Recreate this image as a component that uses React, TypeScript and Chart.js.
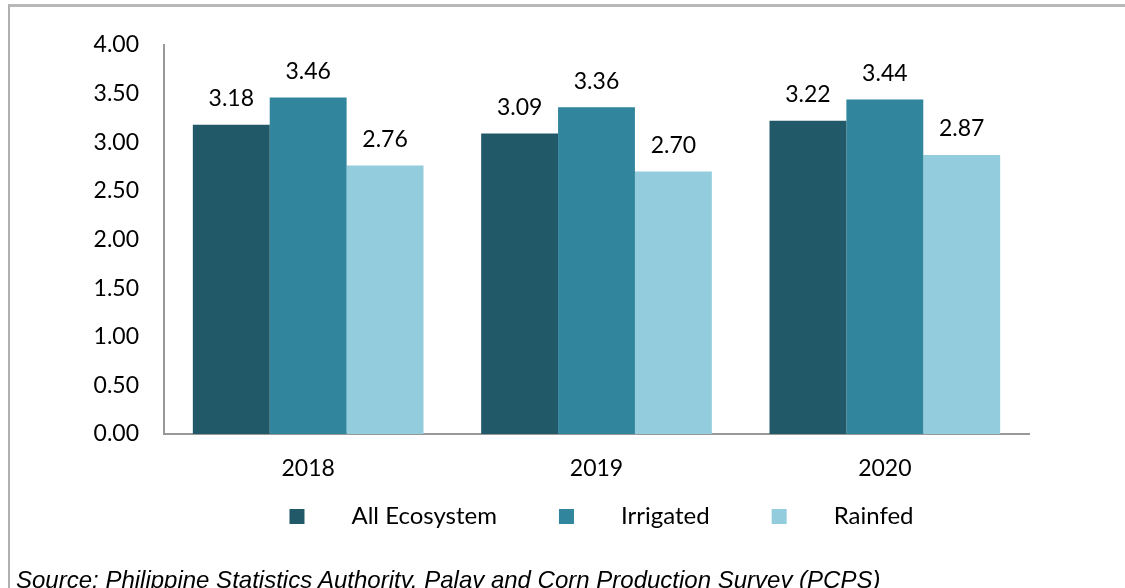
import React, { useEffect, useRef } from "react";
import { Chart, registerables } from "chart.js";

Chart.register(...registerables);

const categories = ["2018", "2019", "2020"];
const allEcosystem = [3.18, 3.09, 3.22];
const irrigated = [3.46, 3.36, 3.44];
const rainfed = [2.76, 2.7, 2.87];
const seriesNames = ["All Ecosystem", "Irrigated", "Rainfed"];
const seriesColors = ["#215968", "#31859c", "#93cddd"];
const yMin = 0;
const yMax = 4;
const yStep = 0.5;
const sourceText =
  "Source: Philippine Statistics Authority, Palay and Corn Production Survey (PCPS)";

const FONT = "Lato";
const CANVAS_W = 1115;
const CANVAS_H = 545;

const valueLabels = {
  id: "valueLabels",
  afterDatasetsDraw(chart: any) {
    const ctx = chart.ctx;
    ctx.save();
    ctx.font = `23px ${FONT}`;
    ctx.fillStyle = "#000";
    ctx.textAlign = "center";
    ctx.textBaseline = "middle";
    chart.data.datasets.forEach((ds: any, i: number) => {
      const meta = chart.getDatasetMeta(i);
      meta.data.forEach((bar: any, j: number) => {
        ctx.fillText(Number(ds.data[j]).toFixed(2), bar.x, bar.y - 26);
      });
    });
    ctx.restore();
  },
};

const customLegend = {
  id: "customLegend",
  afterDraw(chart: any) {
    const ctx = chart.ctx;
    const box = 15;
    const gapBoxText = 47;
    const gapItems = 62;
    ctx.save();
    ctx.font = `24px ${FONT}`;
    const items = chart.data.datasets.map((ds: any) => ({
      label: ds.label,
      color: ds.backgroundColor,
      w: ctx.measureText(ds.label).width,
    }));
    let total = 0;
    items.forEach((it: any, i: number) => {
      total += box + gapBoxText + it.w + (i < items.length - 1 ? gapItems : 0);
    });
    const area = chart.chartArea;
    const cx = (area.left + area.right) / 2 + 5;
    const cy = 510.5;
    let x = cx - total / 2;
    ctx.textBaseline = "middle";
    ctx.textAlign = "left";
    items.forEach((it: any) => {
      ctx.fillStyle = it.color;
      ctx.fillRect(x, cy - box / 2, box, box);
      x += box + gapBoxText;
      ctx.fillStyle = "#000";
      ctx.fillText(it.label, x, cy);
      x += it.w + gapItems;
    });
    ctx.restore();
  },
};

export default function App() {
  const ref = useRef<HTMLCanvasElement | null>(null);

  useEffect(() => {
    if (!ref.current) return;
    const data = [allEcosystem, irrigated, rainfed];
    const chart = new Chart(ref.current, {
      type: "bar",
      data: {
        labels: categories,
        datasets: seriesNames.map((name, i) => ({
          label: name,
          data: data[i],
          backgroundColor: seriesColors[i],
          borderWidth: 0,
          categoryPercentage: 0.8,
          barPercentage: 1.0,
        })),
      },
      options: {
        responsive: false,
        animation: false,
        devicePixelRatio: 1,
        layout: { padding: { left: 0, right: 96, top: 39, bottom: 0 } },
        plugins: {
          legend: { display: false },
          tooltip: { enabled: false },
        },
        scales: {
          x: {
            grid: { display: false, drawTicks: false },
            border: { display: true, color: "#999999", width: 2 },
            ticks: {
              font: { family: FONT, size: 23 },
              color: "#000",
              padding: 21,
            },
            afterFit(scale: any) {
              scale.height = 117;
            },
          },
          y: {
            min: yMin,
            max: yMax,
            grid: { display: false, drawTicks: false },
            border: { display: true, color: "#999999", width: 2 },
            ticks: {
              stepSize: yStep,
              font: { family: FONT, size: 23 },
              color: "#000",
              padding: 25,
              callback: (v: any) => Number(v).toFixed(2),
            },
            afterFit(scale: any) {
              scale.width = 154;
            },
          },
        },
      },
      plugins: [valueLabels, customLegend],
    });
    return () => chart.destroy();
  }, []);

  return (
    <div
      style={{
        position: "fixed",
        top: 4,
        left: 8,
        width: 1117,
        height: 584,
        overflow: "hidden",
      }}
    >
      <div
        style={{
          position: "absolute",
          top: 0,
          left: 0,
          width: 1200,
          height: 700,
          borderTop: "3px solid #b8b8b8",
          borderLeft: "2px solid #b0b0b0",
          boxSizing: "border-box",
        }}
      >
        <canvas
          ref={ref}
          width={CANVAS_W}
          height={CANVAS_H}
          style={{ display: "block", width: CANVAS_W, height: CANVAS_H, marginTop: -1 }}
        />
        <div
          style={{
            fontFamily: "'Liberation Sans', Arial, sans-serif",
            fontStyle: "italic",
            fontSize: 24,
            lineHeight: "28px",
            paddingLeft: 6,
            marginTop: 15,
            color: "#000",
            whiteSpace: "nowrap",
          }}
        >
          {sourceText}
        </div>
      </div>
    </div>
  );
}
